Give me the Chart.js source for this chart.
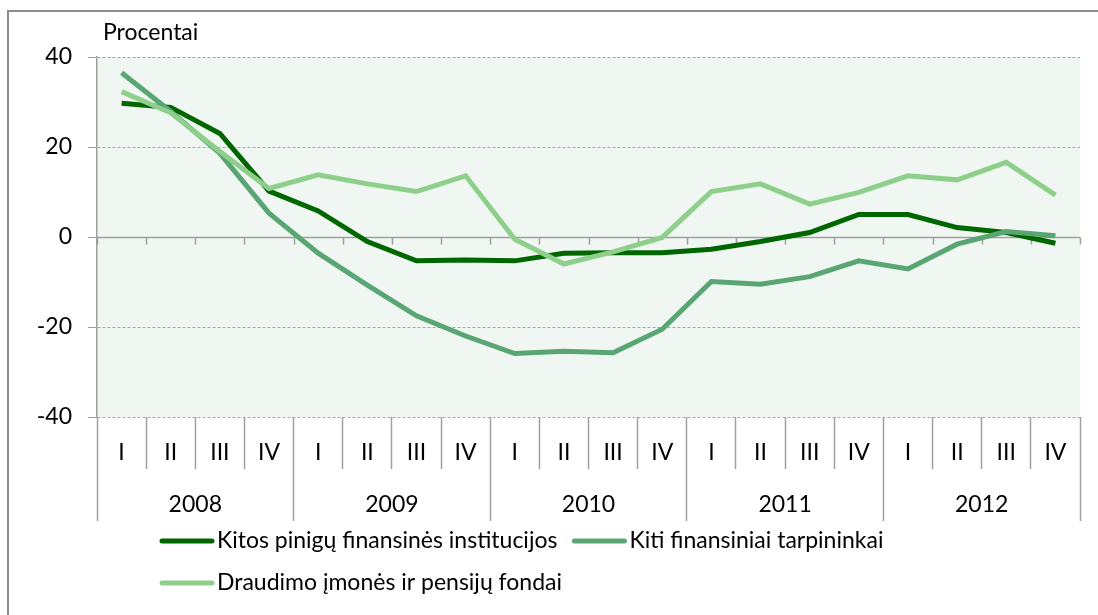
<!DOCTYPE html>
<html>
<head>
<meta charset="utf-8">
<script src="https://cdn.jsdelivr.net/npm/chart.js@4"></script>
<style>
  html, body { margin: 0; padding: 0; background: #fff; }
  #wrap { position: relative; width: 1098px; height: 615px; }
</style>
</head>
<body>
<div id="wrap"><canvas id="chart-line" width="1098" height="615"></canvas></div>
<script>
var years = ["2008", "2009", "2010", "2011", "2012"];
var quarters = ["I", "II", "III", "IV"];
var yTicks = [40, 20, 0, -20, -40];

var kitosPinigu = [29.7, 28.8, 23.0, 10.2, 5.8, -1.0, -5.3, -5.1, -5.3, -3.6, -3.5, -3.5, -2.7, -1.0, 1.0, 5.0, 5.0, 2.1, 1.0, -1.4];
var kitiFinansiniai = [36.5, 27.9, 18.6, 5.3, -3.6, -10.7, -17.5, -22.0, -25.9, -25.4, -25.7, -20.5, -9.9, -10.5, -8.8, -5.3, -7.1, -1.6, 1.2, 0.3];
var draudimo = [32.3, 27.6, 19.0, 10.8, 13.8, 11.8, 10.1, 13.6, -0.5, -6.0, -3.3, -0.1, 10.1, 11.8, 7.3, 9.9, 13.6, 12.7, 16.6, 9.3];

var labels = [];
years.forEach(function (y) {
    quarters.forEach(function (q) { labels.push(q); });
});

var FONT = "Lato";
var GRAY = "#a0a0a0";

// background, frame, title, zero axis and legend
var extras = {
    id: "extras",
    beforeDraw: function (chart) {
        var ctx = chart.ctx, a = chart.chartArea;
        ctx.save();
        ctx.fillStyle = "#ffffff";
        ctx.fillRect(0, 0, chart.width, chart.height);
        ctx.fillStyle = "#f0f7f2";
        ctx.fillRect(a.left, a.top, a.right - a.left, a.bottom - a.top);
        ctx.strokeStyle = "#8c8c8c";
        ctx.lineWidth = 2;
        ctx.beginPath();
        ctx.moveTo(8, chart.height);
        ctx.lineTo(8, 11);
        ctx.lineTo(chart.width, 11);
        ctx.stroke();
        ctx.fillStyle = "#000";
        ctx.font = "23px " + FONT;
        ctx.textBaseline = "middle";
        ctx.textAlign = "left";
        ctx.fillText("Procentai", a.left + 6, 33);
        ctx.restore();
    },
    beforeDatasetsDraw: function (chart) {
        var ctx = chart.ctx, a = chart.chartArea;
        var x = chart.scales.x, y = chart.scales.y;
        var y0 = Math.round(y.getPixelForValue(0)) + 0.5;
        ctx.save();
        ctx.strokeStyle = GRAY;
        ctx.lineWidth = 1.5;
        ctx.beginPath();
        ctx.moveTo(a.left, y0);
        ctx.lineTo(a.right, y0);
        for (var i = 0; i <= labels.length; i++) {
            var px = Math.round(x.getPixelForValue(i - 0.5)) + 0.5;
            ctx.moveTo(px, y0);
            ctx.lineTo(px, y0 + 7);
        }
        ctx.stroke();
        ctx.restore();
    },
    afterDraw: function (chart) {
        var ctx = chart.ctx;
        var ds = chart.data.datasets;
        var rows = [[0, 1], [2]];
        var rowY = [541, 583];
        ctx.save();
        ctx.font = "23px " + FONT;
        ctx.textBaseline = "middle";
        ctx.textAlign = "left";
        rows.forEach(function (row, r) {
            var px = 160;
            row.forEach(function (k) {
                ctx.strokeStyle = ds[k].borderColor;
                ctx.lineWidth = 5;
                ctx.lineCap = "round";
                ctx.beginPath();
                ctx.moveTo(px + 2, rowY[r]);
                ctx.lineTo(px + 52, rowY[r]);
                ctx.stroke();
                ctx.fillStyle = "#000";
                ctx.fillText(ds[k].label, px + 57, rowY[r]);
                px += 57 + ctx.measureText(ds[k].label).width + 15;
            });
        });
        ctx.restore();
    }
};

new Chart(document.getElementById("chart-line"), {
    type: "line",
    data: {
        labels: labels,
        datasets: [{
            label: "Kitos pinigų finansinės institucijos",
            data: kitosPinigu,
            borderColor: "#006600",
            borderWidth: 5,
            pointRadius: 0,
            tension: 0,
            order: 2
        },
        {
            label: "Kiti finansiniai tarpininkai",
            data: kitiFinansiniai,
            borderColor: "#5aa574",
            borderWidth: 5,
            pointRadius: 0,
            tension: 0,
            order: 1
        },
        {
            label: "Draudimo įmonės ir pensijų fondai",
            data: draudimo,
            borderColor: "#8fcf8c",
            borderWidth: 5,
            pointRadius: 0,
            tension: 0,
            order: 0
        }]
    },
    options: {
        responsive: false,
        animation: false,
        layout: { padding: { top: 57, right: 18, bottom: 94, left: 0 } },
        plugins: {
            legend: { display: false },
            tooltip: { enabled: false }
        },
        scales: {
            y: {
                min: -40,
                max: 40,
                afterFit: function (s) { s.width = 97; },
                afterBuildTicks: function (s) {
                    s.ticks = yTicks.map(function (v) { return { value: v }; });
                },
                grid: {
                    color: function (c) { return c.tick && c.tick.value === 0 ? "rgba(0,0,0,0)" : "#a6a6a6"; },
                    lineWidth: 1,
                    drawTicks: true,
                    tickLength: 9,
                    tickColor: GRAY
                },
                border: { display: true, color: GRAY, width: 1.5, dash: [3, 2] },
                ticks: {
                    color: "#000",
                    padding: 16,
                    font: { size: 23, family: FONT }
                }
            },
            x: {
                weight: 0,
                offset: true,
                afterFit: function (s) { s.height = 52; },
                grid: {
                    offset: true,
                    drawOnChartArea: false,
                    drawTicks: true,
                    tickLength: 52,
                    tickColor: GRAY,
                    tickWidth: 1.5
                },
                border: { display: false },
                ticks: {
                    color: "#000",
                    padding: -30,
                    maxRotation: 0,
                    autoSkip: false,
                    font: { size: 23, family: FONT }
                }
            },
            x2: {
                type: "category",
                position: "bottom",
                weight: 1,
                labels: years,
                offset: true,
                afterFit: function (s) { s.height = 52; },
                grid: {
                    offset: true,
                    drawOnChartArea: false,
                    drawTicks: true,
                    tickLength: 52,
                    tickColor: GRAY,
                    tickWidth: 1.5
                },
                border: { display: false },
                ticks: {
                    color: "#000",
                    padding: -30,
                    maxRotation: 0,
                    autoSkip: false,
                    font: { size: 23, family: FONT }
                }
            }
        }
    },
    plugins: [extras]
});
</script>
</body>
</html>
